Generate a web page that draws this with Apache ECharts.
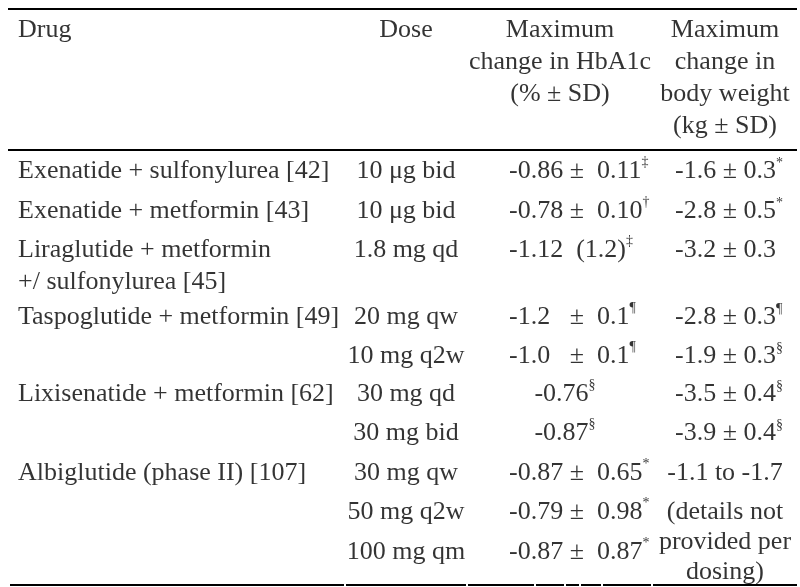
<!DOCTYPE html>
<html><head><meta charset="utf-8">
<script src="https://cdn.jsdelivr.net/npm/echarts@6/dist/echarts.min.js"></script>
<style>html,body{margin:0;padding:0;background:#fff}#c{width:800px;height:587px}</style>
</head><body><div id="c"></div>
<script>
// ---------- DATA ----------
const headers = ['Drug', 'Dose', 'Maximum\nchange in HbA1c\n(% \u00b1 SD)', 'Maximum\nchange in\nbody weight\n(kg \u00b1 SD)'];
const drugs = ['Exenatide + sulfonylurea [42]', 'Exenatide + metformin [43]', 'Liraglutide + metformin\n+/ sulfonylurea [45]',
  'Taspoglutide + metformin [49]', '', 'Lixisenatide + metformin [62]', '', 'Albiglutide (phase II) [107]', '', ''];
const doses = ['10 \u03bcg bid', '10 \u03bcg bid', '1.8 mg qd', '20 mg qw', '10 mg q2w', '30 mg qd', '30 mg bid', '30 mg qw', '50 mg q2w', '100 mg qm'];
const hba1c = ['-0.86 \u00b1  0.11', '-0.78 \u00b1  0.10', '-1.12  (1.2)', '-1.2   \u00b1  0.1', '-1.0   \u00b1  0.1', '-0.76', '-0.87',
  '-0.87 \u00b1  0.65', '-0.79 \u00b1  0.98', '-0.87 \u00b1  0.87'];
const hba1cMark = ['\u2021', '\u2020', '\u2021', '\u00b6', '\u00b6', '\u00a7', '\u00a7', '*', '*', '*'];
const weight = ['-1.6 \u00b1 0.3', '-2.8 \u00b1 0.5', '-3.2 \u00b1 0.3', '-2.8 \u00b1 0.3', '-1.9 \u00b1 0.3', '-3.5 \u00b1 0.4', '-3.9 \u00b1 0.4',
  '-1.1 to -1.7', '(details not\nprovided per\ndosing)', ''];
const weightMark = ['*', '*', '', '\u00b6', '\u00a7', '\u00a7', '\u00a7', '', '', ''];

// ---------- LAYOUT ----------
const FONT = 'Liberation Serif';
const FS = 26;
const colX = { drug: 18, dose: 406, hbL: 509, hbC: 565, wtL: 675, wtC: 725, hbHead: 560, wtHead: 725 };
const hbAlign = ['l', 'l', 'l', 'l', 'l', 'c', 'c', 'l', 'l', 'l'];
const wtAlign = ['l', 'l', 'l', 'l', 'l', 'l', 'l', 'c', 'c', 'c'];
const headerY = 30, headerLH = 32;
const rowY = [171, 211, 250, 317, 356, 394, 433, 473, 512, 552];
const bodyLH = 32;
const ruleW = 2;
const topRule = [[8, 9], [797, 9]];
const midRule = [[8, 150], [797, 150]];
const bottomY = 585;
const bottomBreaks = [10, 344, 346, 466, 468, 534, 536, 564, 566, 579, 581, 601, 603, 651, 653, 797];

// ---------- BUILD ----------
function cell(x, yFirst, text, mark, align, lh) {
  const n = text.split('\n').length;
  const y = yFirst + (n - 1) * lh / 2;
  return {
    value: [x, y],
    label: {
      formatter: text.replace(/[{}|]/g, '') + (mark ? '{s|' + mark + '}' : ''),
      align: align === 'l' ? 'left' : 'center',
      lineHeight: lh
    }
  };
}
const cells = [];
cells.push(cell(colX.drug, headerY, headers[0], '', 'l', headerLH));
cells.push(cell(colX.dose, headerY, headers[1], '', 'c', headerLH));
cells.push(cell(colX.hbHead, headerY, headers[2], '', 'c', headerLH));
cells.push(cell(colX.wtHead, headerY, headers[3], '', 'c', headerLH));
for (let i = 0; i < doses.length; i++) {
  if (drugs[i]) cells.push(cell(colX.drug, rowY[i], drugs[i], '', 'l', 32));
  cells.push(cell(colX.dose, rowY[i], doses[i], '', 'c', bodyLH));
  cells.push(cell(hbAlign[i] === 'l' ? colX.hbL : colX.hbC, rowY[i], hba1c[i], hba1cMark[i], hbAlign[i], bodyLH));
  if (weight[i]) cells.push(cell(wtAlign[i] === 'l' ? colX.wtL : colX.wtC, rowY[i], weight[i], weightMark[i], wtAlign[i], 30));
}
const ruleData = [{ coords: topRule }, { coords: midRule }];
for (let k = 0; k < bottomBreaks.length; k += 2) {
  ruleData.push({ coords: [[bottomBreaks[k], bottomY], [bottomBreaks[k + 1], bottomY]] });
}

const chart = echarts.init(document.getElementById('c'), null, { renderer: 'canvas' });
chart.setOption({
  backgroundColor: '#ffffff',
  animation: false,
  grid: { left: 0, right: 0, top: 0, bottom: 0 },
  xAxis: { type: 'value', min: 0, max: 800, show: false },
  yAxis: { type: 'value', min: 0, max: 587, inverse: true, show: false },
  series: [
    {
      type: 'lines', coordinateSystem: 'cartesian2d', silent: true,
      lineStyle: { color: '#000', width: ruleW, opacity: 1 },
      data: ruleData
    },
    {
      type: 'scatter', symbolSize: 1, silent: true,
      itemStyle: { color: 'rgba(0,0,0,0)' },
      label: {
        show: true, position: 'inside', verticalAlign: 'middle',
        color: '#000', fontFamily: FONT, fontSize: FS,
        rich: { s: { fontFamily: FONT, fontSize: 14, color: '#000', verticalAlign: 'top', lineHeight: 18 } }
      },
      data: cells
    }
  ]
});
</script></body></html>
